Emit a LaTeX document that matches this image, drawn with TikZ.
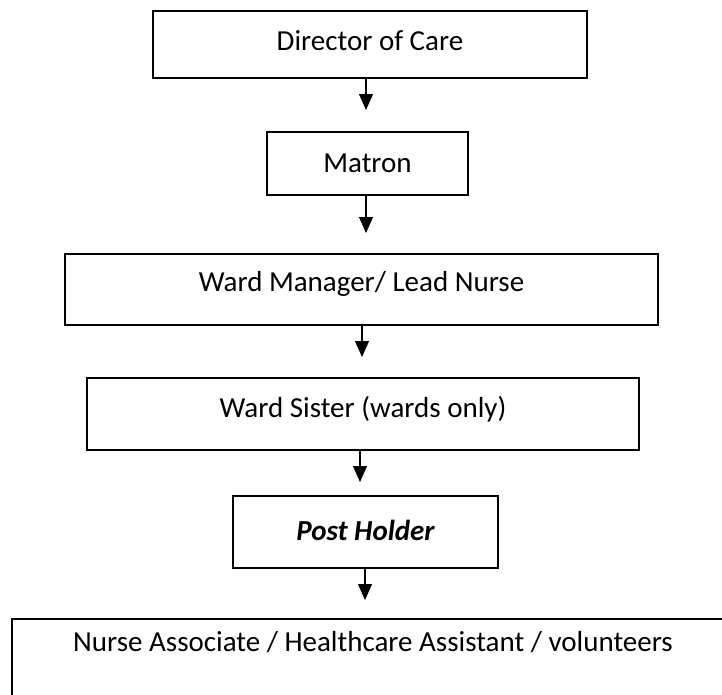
\documentclass[tikz,border=0pt]{standalone}
\usepackage{fontspec}
\setmainfont{Carlito}
\usetikzlibrary{arrows.meta}
\begin{document}
\begin{tikzpicture}[x=1pt,y=-1pt,
  box/.style={draw=black,line width=1.4pt,inner sep=0pt,font=\fontsize{29}{35}\selectfont,
    text height=20pt,text depth=5pt},
  arr/.style={line width=1.1pt,-{Triangle[length=16pt,width=14pt]}}]
\useasboundingbox (0,0) rectangle (722,694);
\clip (0,0) rectangle (722,694);
\node[box,minimum width=434pt,minimum height=67pt,text depth=9pt] (dir) at (370,44.5) {Director of Care};
\node[box,minimum width=201pt,minimum height=63pt,text depth=3pt] (mat) at (367.5,163.5) {Matron};
\node[box,minimum width=593pt,minimum height=71pt,text depth=17pt] (wm) at (361.5,289.5) {Ward Manager/ Lead Nurse};
\node[box,minimum width=552pt,minimum height=72pt,text depth=14pt] (ws) at (363,414) {Ward Sister (wards only)};
\node[box,minimum width=265pt,minimum height=72pt,text depth=4pt,font=\fontsize{29}{35}\selectfont\bfseries\itshape] (ph) at (365.5,532) {Post Holder};
\node[box,minimum width=748pt,minimum height=101pt,text depth=57pt] (na) at (386,669.5) {\hspace*{-26pt}Nurse Associate / Healthcare Assistant / volunteers};
\coordinate (a1) at (366,110);
\coordinate (a2) at (366,233);
\coordinate (a3) at (362,357);
\coordinate (a4) at (360,482);
\coordinate (a5) at (365,600);
\draw[arr] (dir.south -| a1) -- (a1);
\draw[arr] (mat.south -| a2) -- (a2);
\draw[arr] (wm.south -| a3) -- (a3);
\draw[arr] (ws.south -| a4) -- (a4);
\draw[arr] (ph.south -| a5) -- (a5);
\end{tikzpicture}
\end{document}
